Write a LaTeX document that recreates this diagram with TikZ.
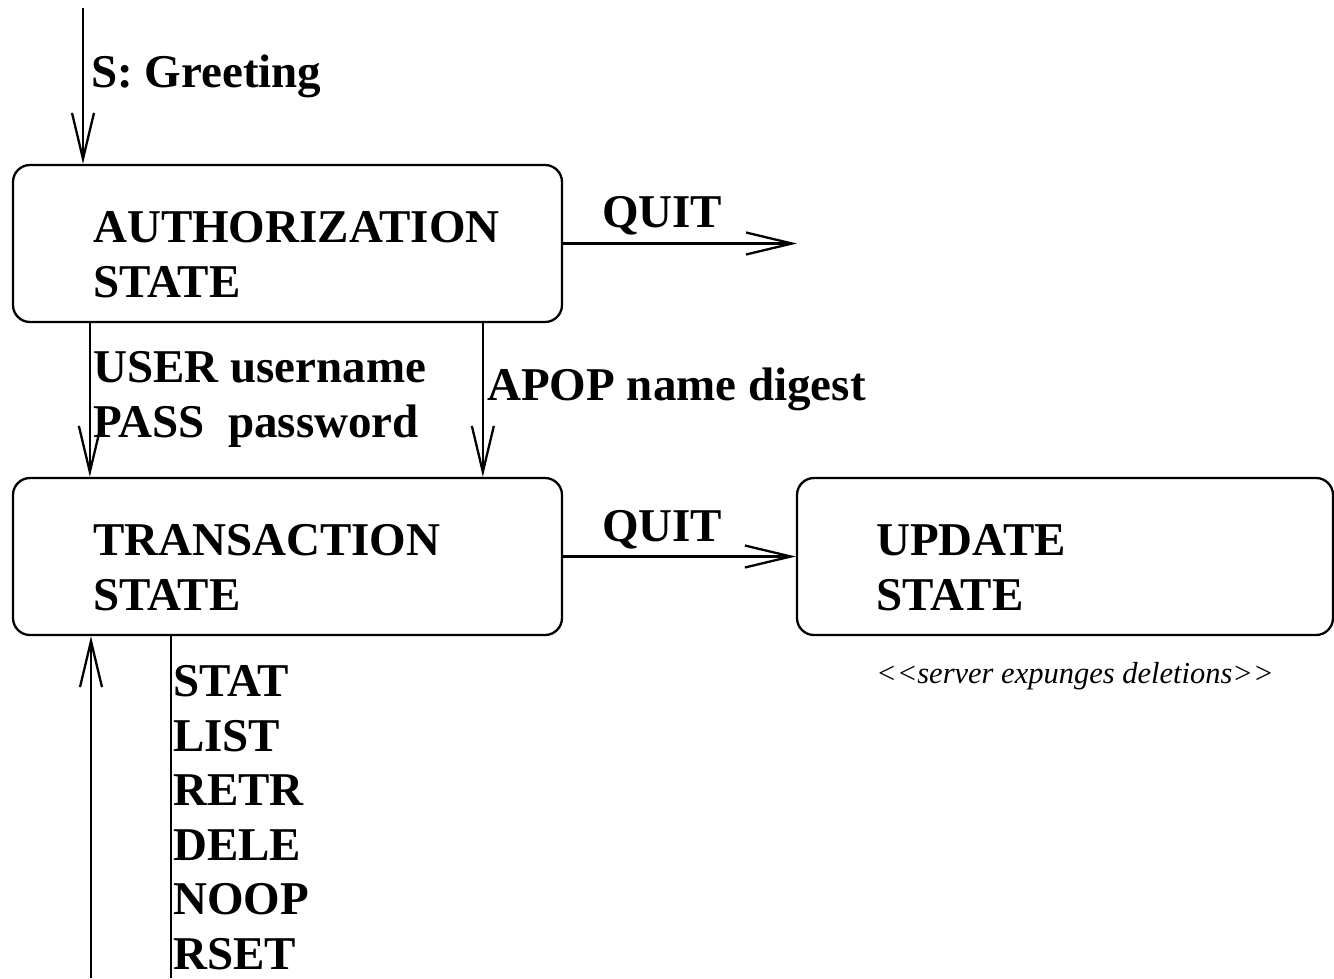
\documentclass[tikz,border=0pt]{standalone}
\usepackage{fontspec}
\setmainfont{Liberation Serif}
\usetikzlibrary{arrows.meta}
\tikzset{
  state/.style={draw,line width=2.3pt,rounded corners=17pt,inner sep=0pt},
  lbl/.style={inner sep=0pt,align=left,anchor=base west,
    font=\fontsize{47}{54.5}\selectfont\bfseries},
  note/.style={inner sep=0pt,anchor=base west,
    font=\fontsize{30.5}{36}\selectfont\itshape},
  arr/.style={line width=2.3pt,-{Straight Barb[length=46pt,width=22pt]}},
  wire/.style={line width=2.3pt}
}

\begin{document}
\begin{tikzpicture}[x=1pt,y=-1pt]
\useasboundingbox (0,0) rectangle (1334,978);

% =============================== states ===============================
\node[state,minimum width=549pt,minimum height=157pt] (auth)  at (287.5,243.5) {};
\node[state,minimum width=549pt,minimum height=157pt] (trans) at (287.5,556.5) {};
\node[state,minimum width=536pt,minimum height=157pt] (upd)   at (1065,556.5) {};

% multi-line labels sit on the baseline of their last line
\node[lbl] (authtxt)  at (93,297)  {AUTHORIZATION\\STATE};
\node[lbl] (transtxt) at (93,610)  {TRANSACTION\\STATE};
\node[lbl] (updtxt)   at (876,610) {UPDATE\\STATE};
\node[note] (expunge) at (876,683) {<{}<server expunges deletions>{}>};

% ============================= free ends ==============================
\coordinate (start)   at (83,8);
\coordinate (quitend) at (797,243.5);
\coordinate (loopin)  at (91,978);
\coordinate (loopout) at (171,978);

% ============================ transitions =============================
\draw[arr] (start) -- (start |- auth.north);
\draw[arr] (auth.east) -- (quitend);
\draw[arr] ([xshift=78pt]auth.south west) -- ([xshift=78pt]trans.north west);
\draw[arr] ([xshift=471pt]auth.south west) -- ([xshift=471pt]trans.north west);
\draw[arr] (trans.east) -- (upd.west);
\draw[arr] (loopin) -- (loopin |- trans.south);
\draw[wire] (trans.south -| loopout) -- (loopout);

% =============================== labels ===============================
\node[lbl] (greet) at (91,87)   {S: Greeting};
\node[lbl] (quita) at (602,227) {QUIT};
\node[lbl] (quitb) at (602,541) {QUIT};
\node[lbl] (user)  at (93,437)  {USER username\\PASS\ \ password};
\node[lbl] (apop)  at (487,400) {APOP name digest};
\node[lbl] (cmds)  at (173,969) {STAT\\LIST\\RETR\\DELE\\NOOP\\RSET};

\end{tikzpicture}
\end{document}
